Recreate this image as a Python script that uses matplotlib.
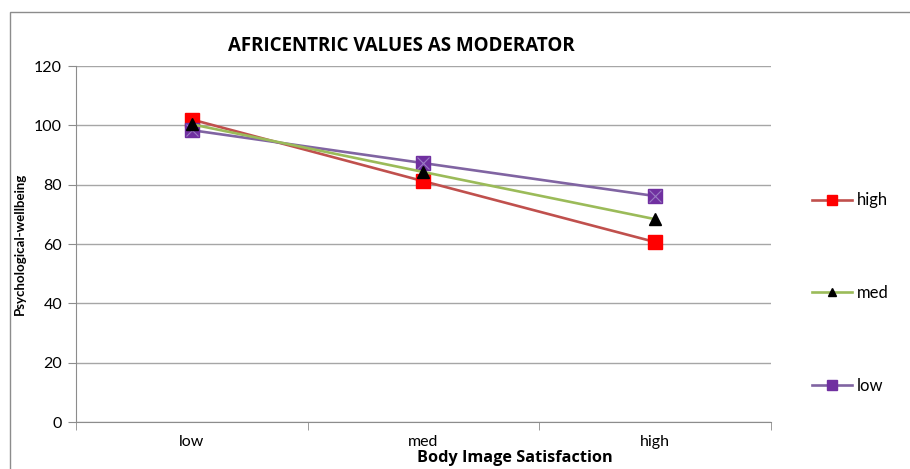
import matplotlib.pyplot as plt
import numpy as np
from matplotlib.patches import Rectangle

plt.rcParams["font.family"] = ["Lato", "DejaVu Sans"]

categories = ["low", "med", "high"]
high_vals = [102, 81.2, 60.7]
med_vals = [100.4, 84.3, 68.4]
low_vals = [98.4, 87.3, 76.2]

fig = plt.figure(figsize=(9.1, 4.69), dpi=100)
ax = fig.add_axes([0.0835, 0.1002, 0.7635, 0.7588])

# chart frame
fig.patches.append(Rectangle((10 / 910, -0.1), 1.2, (469 - 12) / 469 + 0.1,
                             transform=fig.transFigure, fill=False,
                             edgecolor="#8c8c8c", linewidth=1.0))

x = np.arange(len(categories))
ax.plot(x, high_vals, color="#C0504D", linewidth=1.9, marker="s", markersize=10,
        markerfacecolor="#FF0000", markeredgecolor="#FF0000", label="high", zorder=3)
ax.plot(x, med_vals, color="#9BBB59", linewidth=1.9, marker="^", markersize=8,
        markerfacecolor="black", markeredgecolor="black", label="med", zorder=4)
ax.plot(x, low_vals, color="#8064A2", linewidth=1.9, marker="s", markersize=10,
        markerfacecolor="#7030A0", markeredgecolor="#7030A0", label="low", zorder=3)
ax.plot(x, low_vals, linestyle="none", marker="x", markersize=8,
        markeredgecolor="#9a7cc4", markeredgewidth=0.8, zorder=3)

ax.set_xlim(-0.5, 2.5)
ax.set_ylim(0, 120)
ax.set_yticks(range(0, 121, 20))
ax.set_xticks(x)
ax.set_xticklabels(categories, fontsize=11.5)
ax.set_xticks([-0.5, 0.5, 1.5, 2.5], minor=True)
ax.tick_params(axis="x", which="major", length=0, pad=9)
ax.tick_params(axis="x", which="minor", length=6, color="#8c8c8c", direction="out")
ax.tick_params(axis="y", length=6, color="#8c8c8c", labelsize=11.5, pad=4)
ax.grid(axis="y", color="#a6a6a6", linewidth=1.0)
ax.set_axisbelow(True)
for s in ["top", "right"]:
    ax.spines[s].set_visible(False)
for s in ["left", "bottom"]:
    ax.spines[s].set_color("#8c8c8c")

ax.set_title("AFRICENTRIC VALUES AS MODERATOR", fontsize=13.5, fontweight="bold",
             family="Open Sans", pad=11, x=0.468)
ax.set_ylabel("Psychological-wellbeing", fontsize=9.5, fontweight="bold", labelpad=6)
ax.set_xlabel("Body Image Satisfaction", fontsize=11.7, fontweight="bold", family="Open Sans")
ax.xaxis.set_label_coords(0.632, -0.08)

fig.legend(loc="upper left", bbox_to_anchor=(0.885, 0.604), frameon=False, fontsize=12,
           labelspacing=4.6, handlelength=2.4, handletextpad=0.3, borderaxespad=0,
           markerscale=0.75, handles=ax.get_lines()[:3])

fig.savefig("out.png", dpi=100)
